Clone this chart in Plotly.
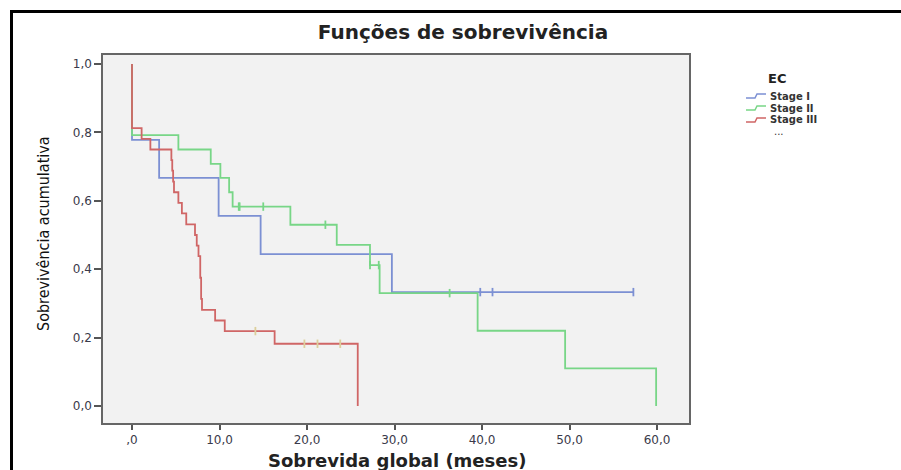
import plotly.graph_objects as go

# ---------------- data ----------------
stage1_t = [0, 0, 3.1, 9.9, 14.7, 29.7, 57.3]
stage1_s = [1.0, 0.778, 0.667, 0.556, 0.444, 0.333, 0.333]
stage1_cens_t = [39.8, 41.2, 57.3]
stage1_cens_s = [0.333, 0.333, 0.333]

stage2_t = [0, 0, 5.3, 9.0, 10.1, 11.1, 11.5, 18.1, 23.4, 27.2, 28.3, 39.5, 49.5, 59.9]
stage2_s = [1.0, 0.792, 0.750, 0.708, 0.667, 0.625, 0.583, 0.530, 0.471, 0.412, 0.330, 0.220, 0.110, 0.0]
stage2_cens_t = [12.2, 12.3, 15.0, 22.1, 27.2, 28.2, 36.3]
stage2_cens_s = [0.583, 0.583, 0.583, 0.530, 0.412, 0.412, 0.330]

stage3_t = [0, 0, 1.1, 2.1, 4.5, 4.6, 4.7, 4.8, 5.3, 5.7, 6.2, 7.2, 7.4, 7.6, 7.8, 7.9, 8.0, 9.5, 10.6, 16.3, 25.8]
stage3_s = [1.0, 0.8125, 0.781, 0.750, 0.719, 0.688, 0.656, 0.625, 0.594, 0.563, 0.531, 0.500, 0.469, 0.438,
            0.375, 0.313, 0.281, 0.250, 0.219, 0.182, 0.0]
stage3_cens_t = [14.1, 19.7, 21.2, 23.8]
stage3_cens_s = [0.219, 0.182, 0.182, 0.182]

x_tickvals = [0, 10, 20, 30, 40, 50, 60]
x_ticktext = [",0", "10,0", "20,0", "30,0", "40,0", "50,0", "60,0"]
y_tickvals = [0, 0.2, 0.4, 0.6, 0.8, 1.0]
y_ticktext = ["0,0", "0,2", "0,4", "0,6", "0,8", "1,0"]

legend_labels = ["Stage I", "Stage II", "Stage III"]

# ---------------- styling ----------------
C_BLUE = "#7c90d3"
C_GREEN = "#78d687"
C_RED = "#d06666"
C_TAN = "#dccf9c"

W, H = 901, 470
L, R, T, B = 103, 689, 55, 423   # plot frame in pixels
PW, PH = R - L, B - T

def px(xp):
    return (xp - L) / PW

def py(yp):
    return (B - yp) / PH

fig = go.Figure()

series = [
    (stage1_t, stage1_s, stage1_cens_t, stage1_cens_s, C_BLUE, C_BLUE, legend_labels[0]),
    (stage2_t, stage2_s, stage2_cens_t, stage2_cens_s, C_GREEN, C_GREEN, legend_labels[1]),
    (stage3_t, stage3_s, stage3_cens_t, stage3_cens_s, C_RED, C_TAN, legend_labels[2]),
]
for t, s, ct, cs, col, ccol, name in series:
    fig.add_trace(go.Scatter(x=t, y=s, mode="lines", line=dict(color=col, width=1.8, shape="hv"),
                             name=name, showlegend=False, hoverinfo="skip"))
for t, s, ct, cs, col, ccol, name in series:
    fig.add_trace(go.Scatter(x=ct, y=cs, mode="markers",
                             marker=dict(symbol="line-ns", size=6, line=dict(color=ccol, width=1.8)),
                             showlegend=False, hoverinfo="skip"))

fig.update_layout(
    width=W, height=H,
    margin=dict(l=L, r=W - R, t=T, b=H - B, pad=0),
    paper_bgcolor="white",
    plot_bgcolor="#f2f2f2",
    showlegend=False,
    title=dict(text="<b>Funções de sobrevivência</b>", x=463 / W, xanchor="center",
               y=1 - 32 / H, yanchor="middle", xref="container", yref="container",
               font=dict(family="DejaVu Sans", size=20, color="#222")),
    font=dict(family="DejaVu Sans", color="#333"),
)

fig.update_xaxes(range=[(L - 132) / 8.75, (R - 132) / 8.75], tickvals=x_tickvals, ticktext=x_ticktext,
                 ticks="outside", ticklen=5, tickwidth=2, tickcolor="#555",
                 showline=True, linecolor="#666", linewidth=1.5, mirror=True,
                 showgrid=False, zeroline=False,
                 tickfont=dict(family="DejaVu Sans", size=12, color="#3a3a4a"))
fig.update_yaxes(range=[-(B - 406) / 342, (406 - T) / 342], tickvals=y_tickvals, ticktext=y_ticktext,
                 ticks="outside", ticklen=7, tickwidth=1.5, tickcolor="#555",
                 showline=True, linecolor="#666", linewidth=1.5, mirror=True,
                 showgrid=False, zeroline=False,
                 tickfont=dict(family="DejaVu Sans", size=12, color="#3a3a4a"))

# axis titles
fig.add_annotation(text="<b>Sobrevida global (meses)</b>", xref="paper", yref="paper",
                   x=px(397), y=py(461), xanchor="center", yanchor="middle", showarrow=False,
                   font=dict(family="DejaVu Sans", size=18, color="#222"))
fig.add_annotation(text="Sobrevivência acumulativa", xref="paper", yref="paper",
                   x=px(43), y=py(234), xanchor="center", yanchor="middle", showarrow=False,
                   textangle=-90,
                   font=dict(family="DejaVu Sans Condensed", size=16, color="#111"))

# custom legend
fig.add_annotation(text="<b>EC</b>", xref="paper", yref="paper", x=px(777), y=py(79),
                   xanchor="center", yanchor="middle", showarrow=False,
                   font=dict(family="DejaVu Sans", size=13, color="#222"))
leg_cols = [C_BLUE, C_GREEN, C_RED]
leg_y = [96, 108, 120]
for lab, col, yy in zip(legend_labels, leg_cols, leg_y):
    x0 = 746
    path = (f"M {px(x0)},{py(yy + 2)} L {px(x0 + 9)},{py(yy + 2)} "
            f"L {px(x0 + 11)},{py(yy - 2)} L {px(x0 + 20)},{py(yy - 2)}")
    fig.add_shape(type="path", path=path, xref="paper", yref="paper",
                  line=dict(color=col, width=1.5))
    fig.add_annotation(text=f"<b>{lab}</b>", xref="paper", yref="paper", x=px(768), y=py(yy),
                       xanchor="left", yanchor="middle", showarrow=False,
                       font=dict(family="DejaVu Sans", size=10, color="#333"))
fig.add_annotation(text="...", xref="paper", yref="paper", x=px(772), y=py(131),
                   xanchor="left", yanchor="middle", showarrow=False,
                   font=dict(family="DejaVu Sans", size=10, color="#333"))

# outer black border (image frame)
fig.add_shape(type="rect", xref="paper", yref="paper",
              x0=px(11.5), y0=py(480), x1=px(920), y1=py(11.5),
              line=dict(color="black", width=3), fillcolor="rgba(0,0,0,0)", layer="above")

fig.write_html("out.html")
